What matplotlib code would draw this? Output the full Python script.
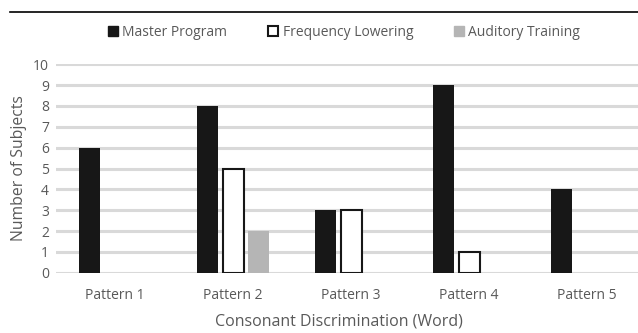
import matplotlib
matplotlib.use("Agg")
import matplotlib.pyplot as plt
import numpy as np
from matplotlib.patches import Patch
from matplotlib.lines import Line2D

categories = ["Pattern 1", "Pattern 2", "Pattern 3", "Pattern 4", "Pattern 5"]
master_program = [6, 8, 3, 9, 4]
frequency_lowering = [0, 5, 3, 1, 0]
auditory_training = [0, 2, 0, 0, 0]
y_ticks = [0, 1, 2, 3, 4, 5, 6, 7, 8, 9, 10]

plt.rcParams["font.family"] = ["Open Sans", "DejaVu Sans"]
W, H = 638, 333
fig = plt.figure(figsize=(W / 100, H / 100), dpi=100)

left_px, right_px = 56, 638
bottom_px, top_px = 272.7, 64.3
ax = fig.add_axes([left_px / W, 1 - bottom_px / H,
                   (right_px - left_px) / W, (bottom_px - top_px) / H])

cat_w = 118.0  # pixels per category
x = np.arange(len(categories))
bw = 21 / cat_w
step = 25.5 / cat_w

dark = "#171717"
light = "#b5b5b5"
grid_c = "#d9d9d9"
text_c = "#595959"

def nz(vals):
    return [(xi, v) for xi, v in zip(x, vals) if v > 0]

for xi, v in nz(master_program):
    ax.bar(xi - step, v, width=bw, color=dark, zorder=3)
for xi, v in nz(frequency_lowering):
    ax.bar(xi, v, width=bw, facecolor="white", edgecolor=dark, linewidth=1.5, zorder=3)
for xi, v in nz(auditory_training):
    ax.bar(xi + step, v, width=bw, color=light, zorder=3)

ax.set_xlim(-0.5, (right_px - left_px) / cat_w - 0.5)
ax.set_ylim(0, 10)
ax.set_yticks(y_ticks)
ax.set_xticks(x)
ax.set_xticklabels(categories)
ax.yaxis.grid(True, color=grid_c, linewidth=2.2, zorder=0)
ax.set_axisbelow(True)
for s in ax.spines.values():
    s.set_visible(False)
ax.tick_params(axis="both", length=0, labelsize=10, colors=text_c)
ax.tick_params(axis="x", pad=11)
ax.tick_params(axis="y", pad=5)

ax.set_ylabel("Number of Subjects", fontsize=11.3, color=text_c, va="center")
ax.yaxis.set_label_coords((19 - left_px) / (right_px - left_px), 0.5)
fig.text(339 / W, 1 - 321 / H, "Consonant Discrimination (Word)", fontsize=11.5,
         color=text_c, ha="center", va="center")

# top rule
fig.add_artist(Line2D([10 / W, 1.0], [1 - 12.3 / H, 1 - 12.3 / H],
                      transform=fig.transFigure, color="black", linewidth=1.2))

handles = [
    Patch(facecolor=dark, edgecolor=dark, label="Master Program"),
    Patch(facecolor="white", edgecolor=dark, linewidth=1.5, label="Frequency Lowering"),
    Patch(facecolor=light, edgecolor=light, label="Auditory Training"),
]
leg = fig.legend(handles=handles, loc="center", bbox_to_anchor=(344 / W, 1 - 32 / H),
                 ncol=3, frameon=False, fontsize=10, handlelength=0.75, handleheight=0.75,
                 handletextpad=0.3, columnspacing=2.93)
for t in leg.get_texts():
    t.set_color(text_c)

fig.savefig("out.png", dpi=100)
